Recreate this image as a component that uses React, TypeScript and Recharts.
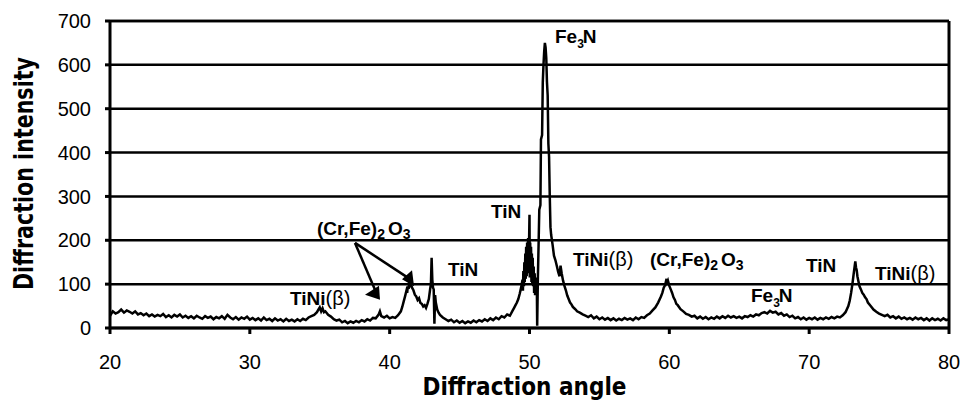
import React from 'react';
import { LineChart, Line, XAxis, YAxis, CartesianGrid, ReferenceLine, ReferenceDot } from 'recharts';

const xTicks = [20, 30, 40, 50, 60, 70, 80];
const yTicks = [0, 100, 200, 300, 400, 500, 600, 700];

// [diffraction angle, intensity]
const base20to34: [number, number][] = [
  [20.0, 28], [20.2, 38], [20.4, 33], [20.6, 36], [20.8, 42], [21.0, 35], [21.2, 40], [21.4, 37], [21.6, 33], [21.8, 38],
  [22.0, 31], [22.2, 34], [22.4, 29], [22.6, 33], [22.8, 27], [23.0, 31], [23.2, 26], [23.4, 30], [23.6, 27], [23.8, 32],
  [24.0, 25], [24.2, 29], [24.4, 24], [24.6, 30], [24.8, 26], [25.0, 31], [25.2, 24], [25.4, 28], [25.6, 23], [25.8, 27],
  [26.0, 22], [26.2, 28], [26.4, 24], [26.6, 21], [26.8, 27], [27.0, 23], [27.2, 26], [27.4, 20], [27.6, 25], [27.8, 22],
  [28.0, 27], [28.2, 21], [28.4, 30], [28.6, 24], [28.8, 20], [29.0, 25], [29.2, 19], [29.4, 24], [29.6, 21], [29.8, 26],
  [30.0, 19], [30.2, 23], [30.4, 18], [30.6, 22], [30.8, 17], [31.0, 24], [31.2, 18], [31.4, 21], [31.6, 16], [31.8, 22],
  [32.0, 17], [32.2, 20], [32.4, 15], [32.6, 21], [32.8, 16], [33.0, 19], [33.2, 15], [33.4, 20], [33.6, 16], [33.8, 21],
  [34.0, 18], [34.2, 24], [34.4, 27],
];

const tiNiRegion: [number, number][] = [
  [34.6, 30], [34.8, 36], [34.9, 42], [35.0, 47], [35.1, 38], [35.2, 45], [35.3, 36], [35.4, 38], [35.6, 30], [35.8, 26],
  [36.0, 20], [36.2, 17], [36.4, 19], [36.6, 13], [36.8, 16], [37.0, 11], [37.2, 15], [37.4, 12], [37.6, 16], [37.8, 13],
  [38.0, 18], [38.2, 15], [38.4, 20], [38.6, 17], [38.8, 23], [39.0, 22], [39.2, 30], [39.3, 38], [39.4, 27], [39.6, 24],
  [39.8, 28], [40.0, 22], [40.2, 25], [40.4, 23], [40.6, 29],
];

const oxideTinRegion: [number, number][] = [
  [40.8, 38], [40.9, 48], [41.0, 60], [41.1, 72], [41.2, 85], [41.25, 80], [41.3, 95], [41.35, 90], [41.4, 106], [41.45, 98],
  [41.5, 102], [41.6, 92], [41.7, 86], [41.8, 76], [41.9, 72], [42.0, 64], [42.1, 68], [42.2, 57], [42.3, 55], [42.4, 49],
  [42.5, 52], [42.6, 46], [42.7, 55], [42.8, 66], [42.9, 90], [42.95, 100], [43.0, 160], [43.05, 110], [43.1, 92], [43.15, 88],
  [43.2, 10], [43.25, 75], [43.3, 58], [43.4, 42], [43.5, 35], [43.6, 30], [43.8, 24], [44.0, 20],
];

const base44to48: [number, number][] = [
  [44.2, 16], [44.4, 19], [44.6, 13], [44.8, 17], [45.0, 12], [45.2, 16], [45.4, 11], [45.6, 15], [45.8, 12], [46.0, 17],
  [46.2, 13], [46.4, 18], [46.6, 15], [46.8, 20], [47.0, 16], [47.2, 22], [47.4, 18], [47.6, 24], [47.8, 20], [48.0, 27],
  [48.2, 24], [48.4, 31], [48.6, 28],
];

const mainPeakRegion: [number, number][] = [
  [48.8, 40], [48.9, 46], [49.0, 52], [49.1, 58], [49.2, 66], [49.3, 78], [49.4, 92], [49.5, 110], [49.53, 85], [49.56, 130],
  [49.6, 95], [49.63, 150], [49.66, 105], [49.7, 170], [49.73, 112], [49.76, 185], [49.8, 118], [49.83, 195], [49.86, 125], [49.9, 205],
  [49.93, 130], [49.96, 180], [50.0, 258], [50.02, 115], [50.05, 195], [50.08, 120], [50.11, 185], [50.14, 105], [50.17, 170], [50.2, 100],
  [50.23, 160], [50.26, 95], [50.3, 140], [50.33, 80], [50.37, 125], [50.4, 75], [50.44, 115], [50.48, 90], [50.52, 110], [50.55, 5],
  [50.6, 115], [50.65, 190], [50.7, 270], [50.78, 280], [50.82, 430], [50.9, 440], [50.95, 560], [51.0, 600], [51.05, 630], [51.1, 650],
  [51.15, 640], [51.2, 615], [51.25, 560], [51.3, 530], [51.35, 420], [51.4, 390], [51.45, 300], [51.5, 230], [51.55, 212], [51.65, 190],
  [51.75, 165], [51.85, 155], [51.95, 142], [52.05, 128], [52.15, 118], [52.22, 142], [52.3, 125], [52.4, 108], [52.5, 96], [52.6, 86],
  [52.7, 74], [52.8, 66], [52.9, 58], [53.0, 54], [53.1, 48], [53.2, 45], [53.3, 42], [53.4, 38], [53.6, 35], [53.8, 31],
  [54.0, 28],
];

const base54to58: [number, number][] = [
  [54.2, 25], [54.4, 29], [54.6, 22], [54.8, 26], [55.0, 20], [55.2, 24], [55.4, 19], [55.6, 23], [55.8, 18], [56.0, 22],
  [56.2, 17], [56.4, 21], [56.6, 18], [56.8, 23], [57.0, 19], [57.2, 22], [57.4, 18], [57.6, 24], [57.8, 20], [58.0, 25],
  [58.2, 23],
];

const oxidePeak60: [number, number][] = [
  [58.4, 29], [58.6, 33], [58.8, 40], [59.0, 47], [59.2, 58], [59.4, 72], [59.5, 80], [59.6, 92], [59.7, 98], [59.8, 112],
  [59.85, 104], [59.9, 108], [60.0, 96], [60.1, 88], [60.2, 80], [60.3, 70], [60.4, 64], [60.5, 55], [60.6, 52], [60.8, 43],
  [61.0, 38], [61.2, 32], [61.4, 30], [61.6, 26],
];

const base62to72: [number, number][] = [
  [61.8, 28], [62.0, 22], [62.2, 26], [62.4, 21], [62.6, 25], [62.8, 20], [63.0, 24], [63.2, 21], [63.4, 26], [63.6, 22],
  [63.8, 27], [64.0, 23], [64.2, 28], [64.4, 24], [64.6, 27], [64.8, 23], [65.0, 26], [65.2, 22], [65.4, 27], [65.6, 25],
  [65.8, 29], [66.0, 26], [66.2, 31], [66.4, 29], [66.6, 34], [66.8, 36], [67.0, 33], [67.2, 39], [67.4, 35], [67.6, 37],
  [67.8, 31], [68.0, 34], [68.2, 28], [68.4, 31], [68.6, 25], [68.8, 28], [69.0, 22], [69.2, 25], [69.4, 20], [69.6, 24],
  [69.8, 19], [70.0, 23], [70.2, 20], [70.4, 24], [70.6, 19], [70.8, 23], [71.0, 20], [71.2, 24], [71.4, 21], [71.6, 25],
  [71.8, 22], [72.0, 26], [72.2, 24], [72.4, 29],
];

const tinPeak73: [number, number][] = [
  [72.6, 36], [72.8, 50], [72.9, 62], [73.0, 80], [73.1, 102], [73.2, 128], [73.25, 140], [73.3, 152], [73.35, 138], [73.4, 132],
  [73.45, 118], [73.5, 110], [73.6, 95], [73.7, 88], [73.8, 80], [73.9, 76], [74.0, 70], [74.1, 66], [74.2, 58], [74.4, 50],
  [74.6, 42], [74.8, 37], [75.0, 33], [75.2, 30],
];

const base75to80: [number, number][] = [
  [75.4, 27], [75.6, 30], [75.8, 24], [76.0, 27], [76.2, 22], [76.4, 26], [76.6, 21], [76.8, 24], [77.0, 20], [77.2, 23],
  [77.4, 19], [77.6, 24], [77.8, 20], [78.0, 23], [78.2, 18], [78.4, 22], [78.6, 17], [78.8, 22], [79.0, 18], [79.2, 21],
  [79.4, 17], [79.6, 22], [79.8, 18], [80.0, 20],
];

// Phase annotations: [angle, intensity, kind]
const phaseLabels: [number, number, string][] = [
  [51.82, 650, 'Fe3N'],
  [47.25, 251, 'TiN'],
  [53.11, 141, 'TiNi'],
  [58.62, 141, 'CrFe'],
  [69.77, 128, 'TiN'],
  [74.71, 109, 'TiNi'],
  [65.84, 59, 'Fe3N'],
  [44.17, 119, 'TiN'],
  [32.87, 52, 'TiNi'],
  [34.80, 212, 'CrFe'],
];

// Arrows from the left (Cr,Fe)2O3 label
const arrowStart = { angle: 37.52, value: 194 };
const arrowEnds: [number, number, string][] = [
  [38.95, 87, 'left'],
  [41.24, 116, 'right'],
];

const seriesData = [
  ...base20to34, ...tiNiRegion, ...oxideTinRegion, ...base44to48, ...mainPeakRegion,
  ...base54to58, ...oxidePeak60, ...base62to72, ...tinPeak73, ...base75to80,
].map(([angle, intensity]) => ({ angle, intensity }));

const tickFont = "'Liberation Sans', Arial, Helvetica, sans-serif";
const titleFont = "'Liberation Sans Narrow', 'DejaVu Sans Condensed', 'Liberation Sans', Arial, sans-serif";
const labelFont = "'Liberation Sans', Arial, Helvetica, sans-serif";

function renderPhase(kind: string, x: number, y: number) {
  const common = { x, y, fill: '#000', fontFamily: labelFont, fontSize: 19 };
  if (kind === 'TiN') {
    return <text {...common} fontWeight="bold">TiN</text>;
  }
  if (kind === 'TiNi') {
    return (
      <text {...common}>
        <tspan fontWeight="bold">TiNi</tspan>
        <tspan fontWeight="normal" fontSize={20}>(β)</tspan>
      </text>
    );
  }
  if (kind === 'Fe3N') {
    return (
      <text {...common} fontWeight="bold">
        <tspan>Fe</tspan>
        <tspan fontSize={12} dy={5}>3</tspan>
        <tspan dy={-5} dx={-1}>N</tspan>
      </text>
    );
  }
  return (
    <text {...common} fontWeight="bold">
      <tspan>(Cr,Fe)</tspan>
      <tspan fontSize={14} dy={4}>2</tspan>
      <tspan dy={-4} dx={3}>O</tspan>
      <tspan fontSize={14} dy={4}>3</tspan>
    </text>
  );
}

function renderHead(kind: string, cx: number, cy: number) {
  const pts = kind === 'left'
    ? [[cx - 10, cy + 5], [cx + 4, cy - 4], [cx + 5, cy + 10]]
    : [[cx - 5, cy + 2], [cx + 5, cy - 7], [cx + 7, cy + 9]];
  return <polygon points={pts.map((p) => p.join(',')).join(' ')} fill="#000" />;
}

const YTitle = (props: any) => {
  const vb = props.viewBox || { x: 0, y: 21, width: 110, height: 307 };
  const cx = vb.x + 33;
  const cy = vb.y + vb.height / 2 - 1;
  return (
    <text x={cx} y={cy} transform={`rotate(-90 ${cx} ${cy})`} textAnchor="middle" fontSize={26}
      fontWeight="bold" fontFamily={titleFont} fill="#000" textLength={233} lengthAdjust="spacingAndGlyphs">
      Diffraction intensity
    </text>
  );
};

const XTitle = (props: any) => {
  const vb = props.viewBox || { x: 110, y: 328, width: 839, height: 82 };
  const cx = vb.x + vb.width / 2 - 5;
  const cy = vb.y + 67;
  return (
    <text x={cx} y={cy} textAnchor="middle" fontSize={25} fontWeight="bold" fontFamily={titleFont}
      fill="#000" textLength={204} lengthAdjust="spacingAndGlyphs">
      Diffraction angle
    </text>
  );
};

export default function App() {
  return (
    <div style={{ position: 'absolute', left: 0, top: 0, width: 966, height: 410, background: '#fff' }}>
      <LineChart width={966} height={410} data={seriesData} margin={{ top: 21, right: 17, bottom: 0, left: 0 }}>
        <CartesianGrid vertical={false} stroke="#000" strokeWidth={2.5} />
        <XAxis
          dataKey="angle"
          type="number"
          domain={[20, 80]}
          ticks={xTicks}
          interval={0}
          height={82}
          tickSize={6}
          tickMargin={21}
          axisLine={{ stroke: '#000', strokeWidth: 3 }}
          tickLine={{ stroke: '#000', strokeWidth: 3 }}
          tick={{ fill: '#000', fontSize: 20, fontFamily: tickFont }}
          label={<XTitle />}
        />
        <YAxis
          type="number"
          domain={[0, 700]}
          ticks={yTicks}
          interval={0}
          width={110}
          tickSize={5}
          tickMargin={14}
          axisLine={{ stroke: '#000', strokeWidth: 3 }}
          tickLine={{ stroke: '#000', strokeWidth: 3 }}
          tick={{ fill: '#000', fontSize: 20, fontFamily: tickFont }}
          label={<YTitle />}
        />
        <ReferenceLine y={700} stroke="#000" strokeWidth={2.5} />
        <ReferenceLine x={80} stroke="#000" strokeWidth={3} />
        <Line
          dataKey="intensity"
          type="linear"
          stroke="#000"
          strokeWidth={2.5}
          dot={false}
          isAnimationActive={false}
        />
        {arrowEnds.map(([a, v], i) => (
          <ReferenceLine
            key={`arrow-${i}`}
            segment={[{ x: arrowStart.angle, y: arrowStart.value }, { x: a, y: v }]}
            stroke="#000"
            strokeWidth={2.5}
            ifOverflow="visible"
          />
        ))}
        {arrowEnds.map(([a, v, head], i) => (
          <ReferenceDot
            key={`head-${i}`}
            x={a}
            y={v}
            r={1}
            ifOverflow="visible"
            shape={(p: any) => renderHead(head, p.cx, p.cy)}
          />
        ))}
        {phaseLabels.map(([a, v, kind], i) => (
          <ReferenceDot
            key={`lbl-${i}`}
            x={a}
            y={v}
            r={1}
            ifOverflow="visible"
            shape={(p: any) => renderPhase(kind, p.cx, p.cy)}
          />
        ))}
      </LineChart>
    </div>
  );
}
